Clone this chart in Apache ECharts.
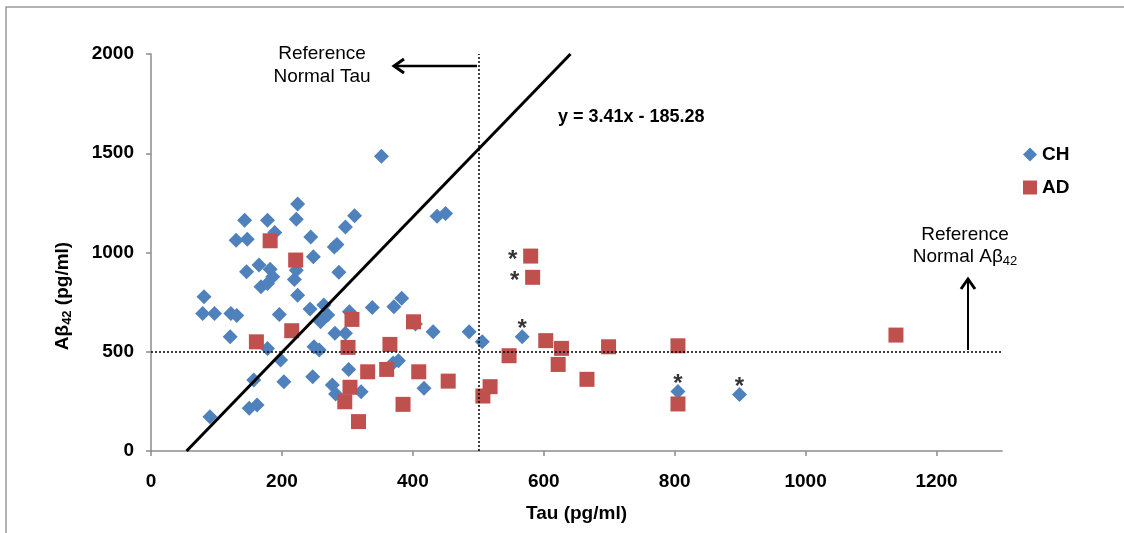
<!DOCTYPE html>
<html><head><meta charset="utf-8">
<script src="https://cdn.jsdelivr.net/npm/echarts@6/dist/echarts.min.js"></script>
<style>html,body{margin:0;padding:0;background:#fff}#c{width:1124px;height:533px}</style>
</head><body><div id="c"></div><script>
// ---- data ----
const chData = [[352,1485],[224,1244],[143,1163],[178,1163],[222,1167],[311,1185],[297,1128],[437,1183],[450,1197],
  [130,1062],[147,1067],[189,1101],[244,1078],[280,1028],[284,1040],[248,978],[287,901],[146,903],[165,937],
  [182,915],[186,878],[168,827],[178,844],[222,911],[219,864],[224,785],[81,777],[79,693],[97,693],[122,693],
  [131,683],[196,688],[243,715],[264,735],[270,685],[259,651],[303,701],[338,723],[371,727],[383,769],[404,640],
  [121,576],[178,517],[198,458],[281,593],[297,593],[249,525],[257,509],[157,358],[203,349],[247,374],[277,332],
  [282,287],[302,411],[321,299],[150,215],[162,232],[90,173],[370,443],[378,455],[417,316],[431,601],[486,601],
  [506,550],[567,576],[805,300],[899,285]];
const adData = [[182,1059],[221,962],[580,982],[583,875],[161,550],[215,606],[307,663],[401,651],[301,522],[365,537],
  [331,399],[360,411],[409,399],[454,352],[304,321],[296,248],[317,148],[385,235],[518,324],[507,277],[547,480],
  [603,556],[627,517],[622,436],[699,525],[666,361],[805,530],[805,237],[1138,584]];
const chStarred = [[567,576],[805,300],[899,285]];
const adStarred = [[580,982],[583,875]];
const xTicks = [0,200,400,600,800,1000,1200];
const yTicks = [0,500,1000,1500,2000];
const refTau = 500, refAb = 500;
const slope = 3.41, intercept = -185.28;
const seriesNames = ['CH','AD'];

// ---- chart ----
const FF = '"Liberation Sans", Arial, sans-serif';
const yMax = 2000;
const fitLine = [[-intercept/slope, 0], [(yMax-intercept)/slope, yMax]];
const chart = echarts.init(document.getElementById('c'), null, {renderer:'canvas'});
const axisCommon = {
  axisLine:{lineStyle:{color:'#8c8c8c', width:1.5}},
  axisTick:{show:true, inside:false, length:5, lineStyle:{color:'#8c8c8c', width:1.5}},
  splitLine:{show:false},
  axisLabel:{color:'#000', fontFamily:FF, fontWeight:'bold', fontSize:19, formatter:function(v){return String(v);}}
};
chart.setOption({
  animation:false,
  backgroundColor:'#fff',
  textStyle:{fontFamily:FF},
  grid:{left:151, right:122, top:54, bottom:82, outerBoundsMode:'none'},
  legend:{data:seriesNames, orient:'vertical', left:1023, top:145, itemWidth:14, itemHeight:14, itemGap:14,
    padding:0, textStyle:{fontFamily:FF, fontWeight:'bold', fontSize:19, color:'#000'}},
  xAxis:Object.assign({}, axisCommon, {type:'value', min:0, max:1300, interval:200,
    axisTick:Object.assign({}, axisCommon.axisTick, {customValues:xTicks}),
    axisLabel:Object.assign({}, axisCommon.axisLabel, {customValues:xTicks, margin:21}),
    name:'Tau (pg/ml)', nameLocation:'middle', nameGap:53,
    nameTextStyle:{fontFamily:FF, fontWeight:'bold', fontSize:19, color:'#000'}}),
  yAxis:Object.assign({}, axisCommon, {type:'value', min:0, max:yMax, interval:500,
    axisTick:Object.assign({}, axisCommon.axisTick, {customValues:yTicks}),
    axisLabel:Object.assign({}, axisCommon.axisLabel, {customValues:yTicks, margin:17})}),
  series:[
    {type:'scatter', name:'refs', data:[], z:1, silent:true,
      markLine:{silent:true, symbol:'none', label:{show:false},
        lineStyle:{type:[2,2], color:'#000', width:1.5},
        data:[{xAxis:refTau},{yAxis:refAb}]}},
    {type:'scatter', name:'CH', data:chData, symbol:'diamond', symbolSize:15, z:2,
      itemStyle:{color:'#4F81BD', opacity:1}},
    {type:'scatter', name:'AD', data:adData, symbol:'rect', symbolSize:15, z:3,
      itemStyle:{color:'#C0504D', opacity:1}},
    {type:'line', name:'fit', data:fitLine, symbol:'none', z:5, silent:true,
      lineStyle:{color:'#000', width:3}},
    {type:'scatter', name:'starCH', data:chStarred, symbolSize:0, z:6, silent:true,
      label:{show:true, formatter:'*', position:'inside', offset:[0,-7], color:'#000', fontSize:24, fontWeight:'bold', fontFamily:FF}},
    {type:'scatter', name:'starAD', data:adStarred, symbolSize:0, z:6, silent:true,
      label:{show:true, formatter:'*', position:'inside', offset:[-18,4], color:'#000', fontSize:24, fontWeight:'bold', fontFamily:FF}}
  ],
  graphic:[
    {type:'rect', shape:{x:6, y:7, width:1200, height:600}, style:{fill:'none', stroke:'#9a9a9a', lineWidth:1.5}, silent:true, z:0},
    {type:'text', x:63, y:296, rotation:Math.PI/2, style:{
      text:'{a|Aβ}{s|42}{a| (pg/ml)}', align:'center', verticalAlign:'middle',
      rich:{a:{fontFamily:FF, fontWeight:'bold', fontSize:19, fill:'#000', lineHeight:22},
            s:{fontFamily:FF, fontWeight:'bold', fontSize:13, fill:'#000', verticalAlign:'bottom', lineHeight:16}}}},
    {type:'text', x:322, y:65, style:{text:'Reference\nNormal Tau', align:'center', verticalAlign:'middle',
      font:'19px '+FF, fill:'#000', lineHeight:23}},
    {type:'polyline', shape:{points:[[477,66],[395,66]]}, style:{stroke:'#000', lineWidth:2.5, fill:'none'}},
    {type:'polyline', shape:{points:[[404,59],[394,66],[404,73]]}, style:{stroke:'#000', lineWidth:3, fill:'none', lineJoin:'miter'}},
    {type:'text', x:558, y:117, style:{text:'y = 3.41x - 185.28', align:'left', verticalAlign:'middle',
      font:'bold 18px '+FF, fill:'#000'}},
    {type:'text', x:965, y:246, style:{text:'{a|Reference}\n{a|Normal Aβ}{s|42}', align:'center', verticalAlign:'middle',
      rich:{a:{fontFamily:FF, fontSize:19, fill:'#000', lineHeight:22},
            s:{fontFamily:FF, fontSize:13, fill:'#000', verticalAlign:'bottom', lineHeight:16}}}},
    {type:'polyline', shape:{points:[[968,350],[968,280]]}, style:{stroke:'#000', lineWidth:2, fill:'none'}},
    {type:'polyline', shape:{points:[[961,289],[968,279],[975,289]]}, style:{stroke:'#000', lineWidth:3, fill:'none'}}
  ]
});
</script></body></html>
